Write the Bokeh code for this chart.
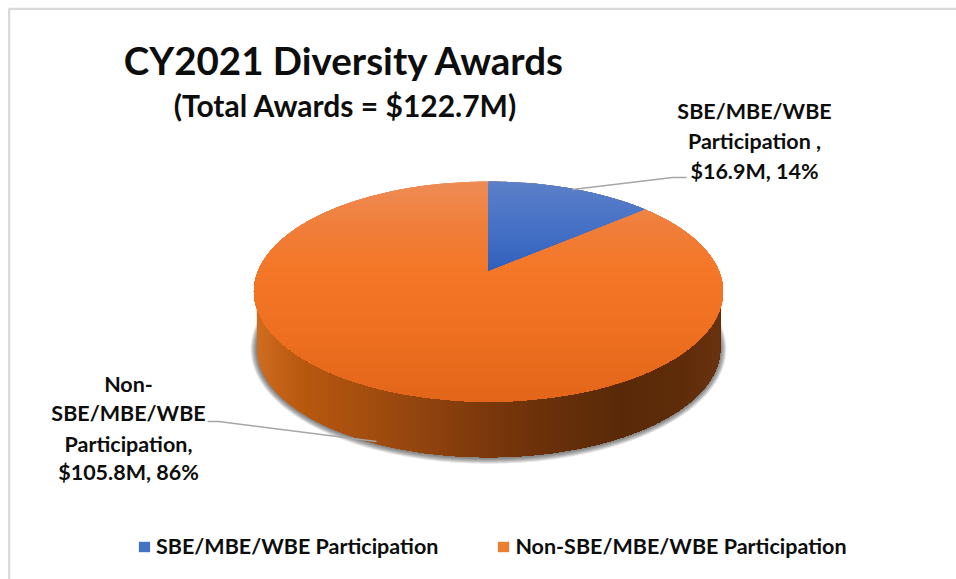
import numpy as np
from bokeh.embed import file_html
from bokeh.resources import INLINE
from bokeh.plotting import figure
from bokeh.models import Range1d, Legend, LegendItem
from bokeh.core.properties import value

# ---- chart content ----
categories = ["SBE/MBE/WBE Participation", "Non-SBE/MBE/WBE Participation"]
award_values = [16.9, 105.8]
title_text = "CY2021 Diversity Awards"
subtitle_text = "(Total Awards = $122.7M)"
label_lines_sbe = ["SBE/MBE/WBE", "Participation ,", "$16.9M, 14%"]
label_lines_non = ["Non-", "SBE/MBE/WBE", "Participation,", "$105.8M, 86%"]

# ---- styling ----
FONT = value("Lato")
BLUE, ORANGE = "#4472C4", "#ED7D31"
TOP_STOPS = [(181, "#EE8C55"), (230, "#F07D38"), (270, "#F47727"), (330, "#EE7020"), (401, "#E2661A")]
BLUE_STOPS = [(181, "#5C80C9"), (230, "#4570C5"), (270, "#3060BC")]
SIDE_STOPS = [(257, "#CE6C20"), (300, "#B9590F"), (400, "#98480F"), (488, "#7B380C"),
              (560, "#662F0A"), (620, "#5A2A08"), (680, "#5E2C09"), (720, "#6A3210")]

# perspective disc geometry (pixel space of the picture)
CX, APEX_Y, B, A, K = 488.0, 270.0, 230.2, 106.0, 0.191
DEPTH, BASE_SCALE = 57.0, 0.988
ELL_CY = 291.0


def hex2rgb(c):
    return np.array([int(c[i:i + 2], 16) for i in (1, 3, 5)], float)


def ramp(stops, t):
    ts = [s[0] for s in stops]
    cols = np.array([hex2rgb(s[1]) for s in stops])
    rgb = [np.interp(t, ts, cols[:, i]) for i in range(3)]
    return "#%02x%02x%02x" % tuple(int(round(v)) for v in rgb)


def project(t):
    """t = clockwise angle from 12 o'clock on the disc."""
    X, Y = np.sin(t), np.cos(t)
    w = 1 + K * Y
    return CX + B * X / w, APEX_Y - A * Y / w


def clip(xs, ys, axis, limit):
    """Keep the part of a convex polygon with coord >= limit."""
    pts = list(zip(xs, ys))
    out = []
    for i in range(len(pts)):
        p, q = pts[i], pts[(i + 1) % len(pts)]
        pin, qin = p[axis] >= limit, q[axis] >= limit
        if pin:
            out.append(p)
        if pin != qin:
            f = (limit - p[axis]) / (q[axis] - p[axis])
            out.append((p[0] + f * (q[0] - p[0]), p[1] + f * (q[1] - p[1])))
    return [a for a, _ in out], [b for _, b in out]


total = sum(award_values)
sweep = 2 * np.pi * award_values[0] / total

p = figure(width=956, height=579, x_range=Range1d(0, 956), y_range=Range1d(579, 0),
           output_backend="svg", toolbar_location=None, min_border=0,
           x_axis_type=None, y_axis_type=None)
p.grid.visible = False
p.outline_line_color = None
p.background_fill_color = "white"

# frame
p.line([8.6, 8.6, 956], [579, 8.4, 8.4], line_color="#D9D9D9", line_width=2.2)

# full top ellipse and blue wedge outline
tt = np.linspace(0, 2 * np.pi, 361)[:-1]
ex, ey = project(tt)
wt = np.linspace(0, sweep, 60)
wx, wy = project(wt)
wedge_x = [CX] + list(wx)
wedge_y = [APEX_Y] + list(wy)

# base of the cylinder
bx = CX + (ex - CX) * BASE_SCALE
by = ELL_CY + (ey - ELL_CY) * BASE_SCALE + DEPTH

# soft shadow
for d in (6, 5, 4, 3, 2, 1):
    p.patch(CX + (ex - CX) * (BASE_SCALE + d / 234.5),
            ELL_CY + (ey - ELL_CY) * (BASE_SCALE + d / 110.0) + DEPTH + 0.5,
            fill_color="#303030", fill_alpha=0.13, line_color=None)

# side wall, shaded left to right
lower = [i for i in range(len(bx)) if by[i] >= ELL_CY + DEPTH]
lower = sorted(lower, key=lambda i: -bx[i])
hull_x = [bx[i] for i in lower]
hull_y = [by[i] for i in lower]
hull_x = [hull_x[0]] + hull_x + [hull_x[-1]]
hull_y = [ELL_CY] + hull_y + [ELL_CY]
for x0 in np.arange(255, 724, 4.0):
    cx_, cy_ = clip(hull_x, hull_y, 0, x0)
    if len(cx_) > 2:
        p.patch(cx_, cy_, fill_color=ramp(SIDE_STOPS, x0 + 2), line_color=None)

# flat faces (legend keys), then vertical shading on top
orange_face = p.patch(ex, ey, fill_color=ORANGE, line_color=None)
for y0 in np.arange(180, 403, 3.0):
    cx_, cy_ = clip(ex, ey, 1, y0)
    if len(cx_) > 2:
        p.patch(cx_, cy_, fill_color=ramp(TOP_STOPS, y0 + 1.5), line_color=None)
blue_face = p.patch(wedge_x, wedge_y, fill_color=BLUE, line_color=None)
for y0 in np.arange(180, 271, 3.0):
    cx_, cy_ = clip(wedge_x, wedge_y, 1, y0)
    if len(cx_) > 2:
        p.patch(cx_, cy_, fill_color=ramp(BLUE_STOPS, y0 + 1.5), line_color=None)

# leader lines
p.line([686, 672, 572], [177, 177, 189], line_color="#A6A6A6", line_width=1.6)
p.line([207, 218, 376], [421, 421, 441], line_color="#A6A6A6", line_width=1.6)


def put(x, y, txt, size):
    p.text([x], [y], text=[txt], text_font=FONT, text_font_style="bold",
           text_font_size=size, text_color="#0D0D0D", text_align="center",
           text_baseline="middle")


put(344, 59, title_text, "38.5px")
put(345, 104, subtitle_text, "30px")
for y, line in zip((110, 140, 170), label_lines_sbe):
    put(754, y, line, "21.5px")
for y, line in zip((383, 412, 443, 471), label_lines_non):
    put(128, y, line, "21.5px")

legend = Legend(
    items=[LegendItem(label=categories[0], renderers=[blue_face]),
           LegendItem(label=categories[1], renderers=[orange_face])],
    orientation="horizontal", location=(137, 20), glyph_width=14, glyph_height=13,
    label_standoff=5, spacing=58, margin=0, padding=0, border_line_color=None,
    background_fill_alpha=0, label_text_font="Lato", label_text_font_style="bold",
    label_text_font_size="21.5px", label_text_color="#0D0D0D", label_height=20)
p.add_layout(legend, "center")

open("out.html", "w").write(file_html(p, INLINE))
